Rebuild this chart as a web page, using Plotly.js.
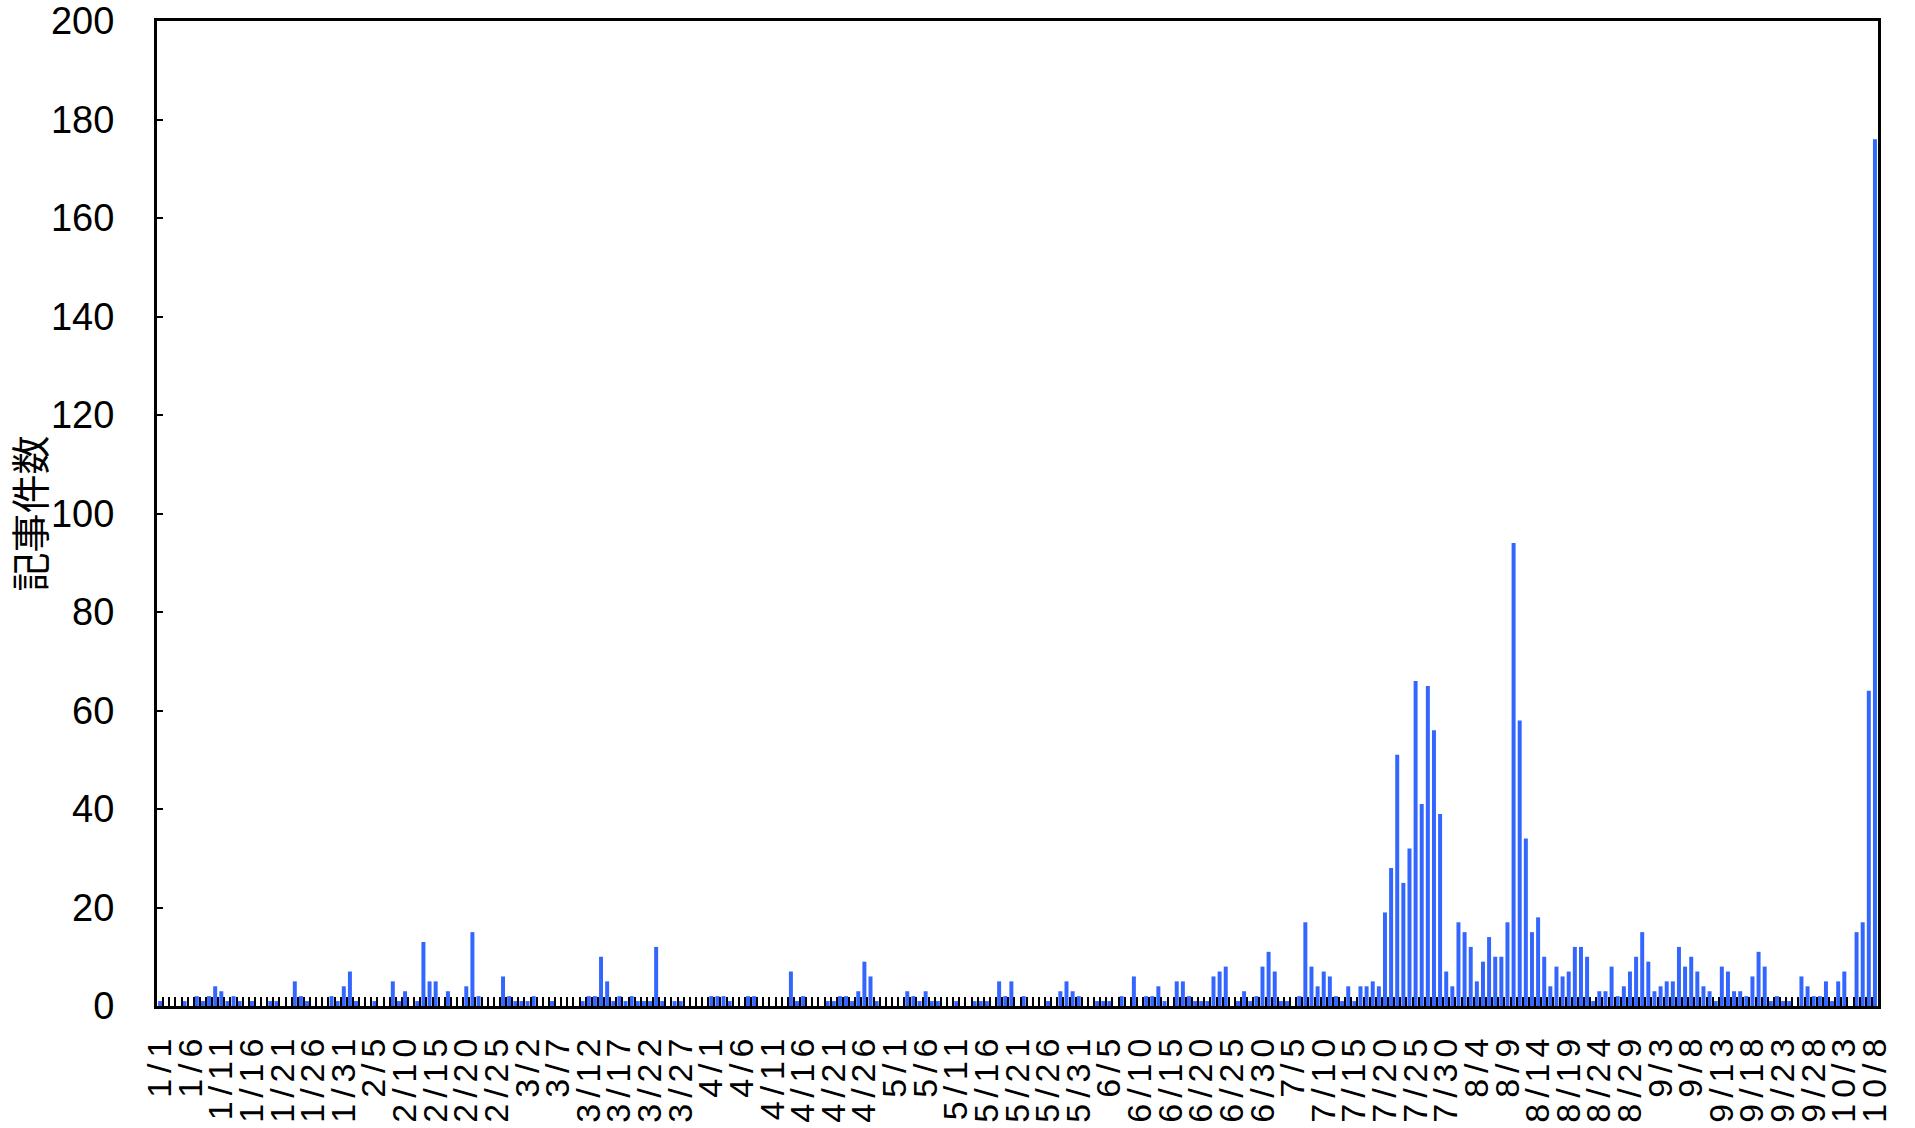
<!DOCTYPE html>
<html>
<head>
<meta charset="utf-8">
<script src="https://cdn.plot.ly/plotly-3.0.1.min.js"></script>
<style>
html, body { margin: 0; padding: 0; background: #ffffff; }
#chart { width: 1915px; height: 1128px; }
.xtick text { letter-spacing: 6px; }
</style>
</head>
<body>
<div id="chart"></div>
<script>
// days shown per month (Jan .. Oct 8)
const monthDays = [31, 28, 31, 30, 31, 30, 31, 31, 30, 8];

// daily article counts, one array per month
const janCounts = [1,0,0,0,1,0,2,1,2,4, 3,1,2,1,0,1,0,0,1,1, 0,0,5,2,1,0,0,0,2,1, 4];
const febCounts = [7,1,0,0,1,0,0,5,1,3, 0,1,13,5,5,0,3,0,0,4, 15,2,0,0,0,6,2,1];
const marCounts = [1,1,2,0,0,1,0,0,0,0, 1,2,2,10,5,1,2,1,2,1, 1,1,12,1,0,1,1,0,0,0, 0];
const aprCounts = [2,2,2,1,0,0,2,2,0,0, 0,0,0,7,1,2,0,0,0,1, 1,2,2,1,3,9,6,1,0,0];
const mayCounts = [0,0,3,2,1,3,1,1,0,0, 1,0,0,1,1,1,0,5,2,5, 0,2,0,0,0,1,0,3,5,3, 2];
const junCounts = [0,0,1,1,1,0,2,0,6,0, 2,2,4,1,0,5,5,2,1,1, 1,6,7,8,0,1,3,1,2,8];
const julCounts = [11,7,1,1,0,2,17,8,4,7, 6,2,1,4,1,4,4,5,4,19, 28,51,25,32,66,41,65,56,39,7, 4];
const augCounts = [17,15,12,5,9,14,10,10,17,94, 58,34,15,18,10,4,8,6,7,12, 12,10,1,3,3,8,2,4,7,10, 15];
const sepCounts = [9,3,4,5,5,12,8,10,7,4, 3,1,8,7,3,3,2,6,11,8, 1,2,1,1,0,6,4,2,2,5];
const octCounts = [1,5,7,0,15,17,64,176];

// labelled ticks
const tickLabels = ["1/1","1/6","1/11","1/16","1/21","1/26","1/31","2/5","2/10","2/15","2/20","2/25",
  "3/2","3/7","3/12","3/17","3/22","3/27","4/1","4/6","4/11","4/16","4/21","4/26",
  "5/1","5/6","5/11","5/16","5/21","5/26","5/31","6/5","6/10","6/15","6/20","6/25","6/30",
  "7/5","7/10","7/15","7/20","7/25","7/30","8/4","8/9","8/14","8/19","8/24","8/29",
  "9/3","9/8","9/13","9/18","9/23","9/28","10/3","10/8"];
const yTickValues = [0, 20, 40, 60, 80, 100, 120, 140, 160, 180, 200];

const yTitle = "記事件数";

const days = [];
monthDays.forEach(function (n, m) {
  for (let d = 1; d <= n; d++) days.push((m + 1) + "/" + d);
});
const counts = [].concat(janCounts, febCounts, marCounts, aprCounts, mayCounts,
  junCounts, julCounts, augCounts, sepCounts, octCounts);
const tickText = days.map(function (d) { return tickLabels.indexOf(d) >= 0 ? d : ""; });

const trace = {
  type: "bar",
  x: days,
  y: counts,
  marker: { color: "#3366ff", line: { width: 0 } },
  hoverinfo: "x+y"
};

const layout = {
  width: 1915,
  height: 1128,
  margin: { l: 157, r: 37, t: 21, b: 122 },
  paper_bgcolor: "#ffffff",
  plot_bgcolor: "#ffffff",
  showlegend: false,
  bargap: 0.35,
  font: { family: "Liberation Sans, Arial, sans-serif", color: "#000000" },
  xaxis: {
    type: "category",
    categoryorder: "array",
    categoryarray: days,
    tickmode: "array",
    tickvals: days,
    ticktext: tickText,
    tickson: "boundaries",
    ticks: "inside",
    ticklen: 9,
    tickwidth: 2,
    tickcolor: "#000000",
    tickangle: -90,
    tickfont: { size: 34, color: "#000000" },
    ticklabelstandoff: 10,
    showline: true,
    linewidth: 3,
    linecolor: "#000000",
    mirror: true,
    showgrid: false,
    zeroline: false,
    automargin: false,
    range: [-0.5, days.length - 0.5]
  },
  yaxis: {
    range: [0, 200.02],
    tickmode: "array",
    tickvals: yTickValues,
    ticktext: yTickValues.map(String),
    ticks: "inside",
    ticklen: 6,
    tickwidth: 2,
    tickcolor: "#000000",
    tickfont: { size: 38, color: "#000000" },
    ticklabelstandoff: 32,
    ticklabeloverflow: "allow",
    showline: true,
    linewidth: 3,
    linecolor: "#000000",
    mirror: true,
    showgrid: false,
    zeroline: false,
    automargin: false,
    title: {
      text: yTitle,
      font: { family: "Noto Sans CJK JP", size: 39, color: "#000000" },
      standoff: 6
    }
  }
};

Plotly.newPlot("chart", [trace], layout, { displayModeBar: false, staticPlot: true });
</script>
</body>
</html>
